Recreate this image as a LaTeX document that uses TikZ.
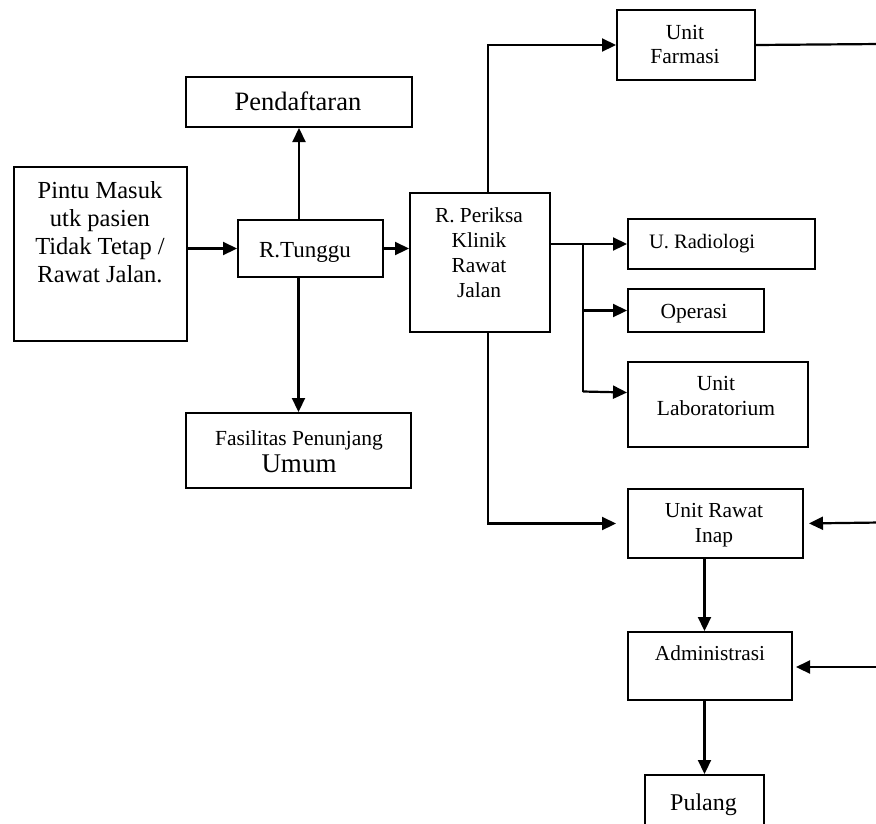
\documentclass[tikz,border=0pt]{standalone}
\usepackage{fontspec}
\setmainfont{Liberation Serif}
\usetikzlibrary{arrows.meta,calc}
\begin{document}
\begin{tikzpicture}[x=1pt,y=-1pt,
  box/.style={draw, line width=2pt, inner sep=0pt, anchor=north west},
  txt/.style={inner sep=0pt, align=center, anchor=base},
  conn/.style={line width=2.2pt},
  arr/.style={line width=2.2pt, -{Triangle[length=14pt,width=13pt]}},
]
\clip (0,0) rectangle (876,823);

% boxes
\node[box, minimum width=173pt, minimum height=174pt] (pintu) at (13,166) {};
\node[box, minimum width=226pt, minimum height=50pt] (daftar) at (185,76) {};
\node[box, minimum width=145pt, minimum height=57pt] (tunggu) at (237,219) {};
\node[box, minimum width=225pt, minimum height=75pt] (fasilitas) at (185,412) {};
\node[box, minimum width=140pt, minimum height=139pt] (periksa) at (409,192) {};
\node[box, minimum width=138pt, minimum height=70pt] (farmasi) at (616,9) {};
\node[box, minimum width=187pt, minimum height=50pt] (radiologi) at (627,218) {};
\node[box, minimum width=136pt, minimum height=43pt] (operasi) at (627,288) {};
\node[box, minimum width=180pt, minimum height=85pt] (lab) at (627,361) {};
\node[box, minimum width=175pt, minimum height=69pt] (inap) at (627,488) {};
\node[box, minimum width=164pt, minimum height=68pt] (admin) at (627,631) {};
\node[box, minimum width=119pt, minimum height=80pt] (pulang) at (644,774) {};

% labels (multi-line labels sit on the baseline of their last line)
\node[txt, font=\fontsize{24.5}{28}\selectfont] (pintuT) at (100,282)
  {Pintu Masuk\\utk pasien\\Tidak Tetap /\\Rawat Jalan.};
\node[txt, font=\fontsize{26.5}{30}\selectfont] (daftarT) at (298,110) {Pendaftaran};
\node[txt, font=\fontsize{23}{26}\selectfont] (tungguT) at (305,257) {R.Tunggu};
\node[txt, font=\fontsize{21.5}{25}\selectfont] (fasT1) at (299,445) {Fasilitas Penunjang};
\node[txt, font=\fontsize{27}{30}\selectfont] (fasT2) at (299,472) {Umum};
\node[txt, font=\fontsize{21.4}{25}\selectfont] (periksaT) at (479,297)
  {R. Periksa\\Klinik\\Rawat\\Jalan};
\node[txt, font=\fontsize{21.5}{23.5}\selectfont] (farmasiT) at (685,63) {Unit\\Farmasi};
\node[txt, font=\fontsize{20.5}{24}\selectfont] (radT) at (702,248) {U. Radiologi};
\node[txt, font=\fontsize{21.5}{25}\selectfont] (opT) at (694,318) {Operasi};
\node[txt, font=\fontsize{21.5}{25}\selectfont] (labT) at (716,415) {Unit\\Laboratorium};
\node[txt, font=\fontsize{21.4}{25}\selectfont] (inapT) at (714,542) {Unit Rawat\\Inap};
\node[txt, font=\fontsize{21.3}{25}\selectfont] (adminT) at (710,660) {Administrasi};
\node[txt, font=\fontsize{24}{28}\selectfont] (pulangT) at (703.5,810) {Pulang};

% loose ends running off the right side
\coordinate (edgeA) at (880,44);
\coordinate (edgeB) at (880,522.5);
\coordinate (edgeC) at (880,667);

% connectors
\draw[arr] (pintu.east |- tunggu.west) -- (tunggu.west);
\draw[arr] (tunggu.north -| daftar.south) -- (daftar.south);
\draw[arr] (tunggu.south -| fasilitas.north) -- (fasilitas.north);
\draw[arr] (tunggu.east) -- (periksa.west |- tunggu.east);

\draw[arr] ($(periksa.north)+(8,0)$) |- (farmasi.west);
\draw[conn] (farmasi.east) -- (edgeA);

\coordinate (fork) at ($(periksa.east |- radiologi.west)+(32,0)$);
\draw[arr] (periksa.east |- radiologi.west) -- (radiologi.west);
\draw[conn] (fork) -- (fork |- 0,391.5);
\draw[arr] (fork |- operasi.west) -- (operasi.west);
\draw[arr] (fork |- 0,391.5) -- ($(lab.west)+(0,-12)$);

\draw[arr, shorten >=11pt] ($(periksa.south)+(8,0)$) |- (inap.west);
\draw[arr, shorten >=5pt] (edgeB) -- (inap.east);
\draw[arr] (inap.south -| pulang.north) -- (admin.north -| pulang.north);
\draw[arr, shorten >=3pt] (edgeC) -- (admin.east |- edgeC);
\draw[arr] (admin.south -| pulang.north) -- (pulang.north);
\end{tikzpicture}
\end{document}
